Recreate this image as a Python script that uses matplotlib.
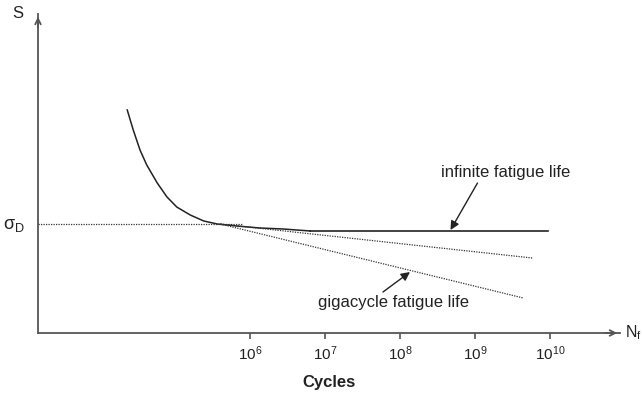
import numpy as np
import matplotlib
matplotlib.use("Agg")
import matplotlib.pyplot as plt

plt.rcParams['font.family'] = ['Liberation Sans', 'DejaVu Sans']
plt.rcParams['mathtext.fontset'] = 'custom'
plt.rcParams['mathtext.rm'] = 'Liberation Sans'
plt.rcParams['mathtext.it'] = 'Liberation Sans'

# S-N curve, x = log10(cycles), y = stress (arbitrary units)
curve_logn = [4.36, 4.44, 4.53, 4.62, 4.76, 4.89, 5.02, 5.20, 5.38, 5.56,
              5.82, 6.13, 6.44, 6.80]
curve_s = [223, 203, 183, 168, 150, 136, 126, 118, 112, 109,
           107, 105, 104, 102]
flat_logn = [6.80, 9.97]
flat_s = [102, 102]
sigma_d = 109
sigma_d_end = 5.9
giga1_logn = [5.6, 9.76]
giga1_s = [109, 75]
giga2_logn = [5.6, 9.64]
giga2_s = [109, 35]
tick_exps = [6, 7, 8, 9, 10]

xmin, xmax = 3.17, 10.93
ymin, ymax = 0, 319

fig = plt.figure(figsize=(6.43, 3.95), dpi=100)
ax = fig.add_axes([38/643, 62/395, (620-38)/643, (333-14)/395])
ax.set_xlim(xmin, xmax)
ax.set_ylim(ymin, ymax)

axcol = '#555555'
ink = '#222222'
for side in ['top', 'right']:
    ax.spines[side].set_visible(False)
for side in ['left', 'bottom']:
    ax.spines[side].set_color(axcol)
    ax.spines[side].set_linewidth(1.3)

# arrow heads on the axes
ax.annotate('', xy=(1.0, 0), xytext=(0.97, 0), xycoords='axes fraction',
            arrowprops=dict(arrowstyle='->', color=axcol, lw=1.3), annotation_clip=False)
ax.annotate('', xy=(0, 1.0), xytext=(0, 0.95), xycoords='axes fraction',
            arrowprops=dict(arrowstyle='->', color=axcol, lw=1.3), annotation_clip=False)

ax.set_xticks(tick_exps)
ax.set_xticklabels([r'$\mathregular{10^{%d}}$' % e for e in tick_exps])
ax.tick_params(axis='x', direction='out', length=4, width=1.2, color=axcol,
               labelsize=11, pad=4, labelcolor=ink)
ax.set_yticks([])
ax.set_xlabel('Cycles', fontsize=12, fontweight='bold', color=ink)
ax.xaxis.set_label_coords(0.5, -50/319)
ax.xaxis.label.set_va('center')

# curves
ax.plot(curve_logn, curve_s, color=ink, lw=1.1)
ax.plot(flat_logn, flat_s, color=ink, lw=1.2)
ax.plot([xmin, sigma_d_end], [sigma_d, sigma_d], color='#333333', lw=0.9,
        ls=(0, (1, 1)))
ax.plot(giga1_logn, giga1_s, color='#333333', lw=0.9, ls=(0, (1, 1)))
ax.plot(giga2_logn, giga2_s, color='#333333', lw=0.9, ls=(0, (1, 1)))

# labels
ax.text(xmin - 0.2, ymax, 'S', fontsize=12, ha='right', va='center', clip_on=False,
        color=ink)
ax.text(xmin - 0.17, sigma_d - 1, r'$\mathregular{σ_D}$', fontsize=13, ha='right',
        va='center', clip_on=False, color=ink)
ax.text(xmax + 0.07, 0, r'$\mathregular{N_f}$', fontsize=11.5, ha='left', va='center',
        clip_on=False, color=ink)

ax.text(9.41, 160, 'infinite fatigue life', fontsize=12, ha='center', va='center',
        color=ink)
ax.annotate('', xy=(8.67, 103), xytext=(9.03, 150),
            arrowprops=dict(arrowstyle='-|>', color=ink, lw=1.0,
                            mutation_scale=13, shrinkA=0, shrinkB=0))
ax.text(7.91, 30, 'gigacycle fatigue life', fontsize=12, ha='center', va='center',
        color=ink)
ax.annotate('', xy=(8.13, 61), xytext=(7.77, 41),
            arrowprops=dict(arrowstyle='-|>', color=ink, lw=1.0,
                            mutation_scale=13, shrinkA=0, shrinkB=0))

fig.savefig('out.png', dpi=100)
